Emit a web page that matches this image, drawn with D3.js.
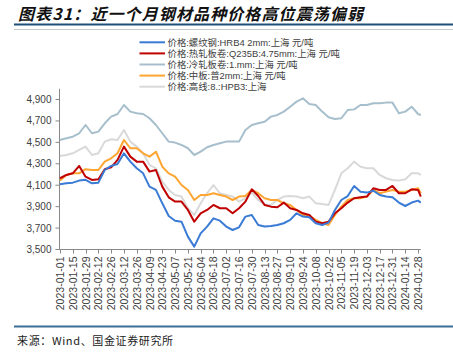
<!DOCTYPE html>
<html><head><meta charset="utf-8">
<script src="https://cdn.jsdelivr.net/npm/d3@7/dist/d3.min.js"></script>
<style>
html,body{margin:0;padding:0;background:#fff;}
svg{display:block;}
</style></head>
<body><svg id="c" width="453" height="354"></svg>
<script>
const dates = ["2023-01-01","2023-01-08","2023-01-15","2023-01-22","2023-01-29","2023-02-05","2023-02-12","2023-02-19","2023-02-26","2023-03-05",
"2023-03-12","2023-03-19","2023-03-26","2023-04-02","2023-04-09","2023-04-16","2023-04-23","2023-04-30","2023-05-07","2023-05-14",
"2023-05-21","2023-05-28","2023-06-04","2023-06-11","2023-06-18","2023-06-25","2023-07-02","2023-07-09","2023-07-16","2023-07-23",
"2023-07-30","2023-08-06","2023-08-13","2023-08-20","2023-08-27","2023-09-03","2023-09-10","2023-09-17","2023-09-24","2023-10-01",
"2023-10-08","2023-10-15","2023-10-22","2023-10-29","2023-11-05","2023-11-12","2023-11-19","2023-11-26","2023-12-03","2023-12-10",
"2023-12-17","2023-12-24","2023-12-31","2024-01-07","2024-01-14","2024-01-21","2024-01-28","2024-01-31"];

const rebar = [4109,4118,4124,4143,4150,4118,4124,4242,4280,4298, 4398,4320,4258,4211,4087,4056,3931,3813,3769,3760,
3620,3527,3651,3714,3791,3769,3714,3682,3707,3807, 3822,3729,3714,3720,3729,3745,3776,3838,3807,3801,
3745,3729,3751,3869,3962,3999,4093,4040,4031,4049, 4009,3994,3987,3938,3906,3938,3956,3938];
const hotRolled = [4165,4196,4211,4280,4180,4149,4155,4249,4267,4336, 4460,4367,4320,4320,4227,4242,4087,3987,3947,3947,
3869,3760,3838,3869,3916,3885,3885,3838,3885,3947, 4062,3999,3916,3900,3894,3938,3885,3869,3838,3822,
3760,3745,3760,3838,3885,3938,3978,3987,3994,4071, 4056,4056,4093,4025,4025,4062,4056,3994];
const coldRolled = [4522,4538,4553,4585,4662,4585,4600,4678,4740,4765, 4849,4787,4771,4765,4725,4662,4585,4507,4498,4476,
4445,4382,4413,4454,4476,4491,4507,4507,4507,4616, 4662,4678,4693,4740,4756,4787,4833,4880,4911,4858,
4849,4787,4734,4718,4725,4802,4808,4849,4849,4865, 4865,4871,4871,4771,4787,4833,4765,4756];
const plate = [4143,4196,4211,4211,4250,4242,4242,4320,4351,4398, 4522,4445,4445,4398,4367,4413,4273,4211,4180,4102,
4056,3962,4009,4009,4025,4009,3994,3962,3994,3999, 4056,4025,3978,3962,3962,3931,3916,3869,3822,3813,
3776,3745,3729,3822,3900,3962,3978,3978,3994,4056, 4025,4040,4056,4040,4040,4056,4071,4025];
const wire = [4373,4382,4398,4429,4460,4382,4398,4507,4529,4522, 4616,4507,4460,4398,4289,4258,4133,4056,4009,3994,
3885,3822,3931,4025,4102,4025,4009,3994,3947,3978, 4031,3962,3916,3916,3962,3994,4000,3994,3978,3994,
3931,3925,3916,4056,4211,4258,4320,4273,4258,4258, 4196,4165,4149,4143,4155,4211,4211,4196];

const seriesNames = ["价格:螺纹钢:HRB4  2mm:上海 元/吨","价格:热轧板卷:Q235B:4.75mm:上海  元/吨","价格:冷轧板卷:1.mm:上海  元/吨","价格:中板:普2mm:上海  元/吨","价格:高线:8.:HPB3:上海"];
const seriesColors = ["#3a7bd5","#c00000","#a7bfcc","#ffa531","#d9d9d9"];
const seriesValues = [rebar, hotRolled, coldRolled, plate, wire];
const drawOrder = [2,4,3,1,0];

const yTicks = [3500,3700,3900,4100,4300,4500,4700,4900];
const xTickLabels = ["2023-01-01","2023-01-15","2023-01-29","2023-02-12","2023-02-26","2023-03-12","2023-03-26","2023-04-09","2023-04-23","2023-05-07",
"2023-05-21","2023-06-04","2023-06-18","2023-07-02","2023-07-16","2023-07-30","2023-08-13","2023-08-27","2023-09-10","2023-09-24",
"2023-10-08","2023-10-22","2023-11-05","2023-11-19","2023-12-03","2023-12-17","2023-12-31","2024-01-14","2024-01-28"];

const svg = d3.select("#c");
const parse = d3.utcParse("%Y-%m-%d");
const x = d3.scaleUtc().domain([parse("2023-01-01"), parse("2024-01-31")]).range([60, 420.8]);
const y = d3.scaleLinear().domain([3500, 5000]).range([249.5, 88.8]);

// header
svg.append("text").attr("x",18).attr("y",19.5)
  .attr("font-family","'Noto Sans CJK SC'").attr("font-size",16).attr("font-weight","bold")
  .attr("font-style","italic").attr("fill","#111")
  .attr("textLength",345).attr("lengthAdjust","spacing")
  .text("图表31：近一个月钢材品种价格高位震荡偏弱");
svg.append("line").attr("x1",14).attr("x2",453).attr("y1",24.5).attr("y2",24.5).attr("stroke","#1f4e79").attr("stroke-width",2);
svg.append("line").attr("x1",14).attr("x2",453).attr("y1",29.5).attr("y2",29.5).attr("stroke","#c8c8c8").attr("stroke-width",1);

// footer
svg.append("line").attr("x1",14).attr("x2",453).attr("y1",326.5).attr("y2",326.5).attr("stroke","#3d6e96").attr("stroke-width",2);
svg.append("text").attr("x",17).attr("y",345)
  .attr("font-family","'Noto Sans CJK SC'").attr("font-size",11).attr("fill","#222")
  .attr("textLength",156).attr("lengthAdjust","spacing")
  .text("来源：Wind、国金证券研究所");

// axes
const gy = svg.append("g").attr("transform","translate(59.5,0)");
gy.append("line").attr("y1",88.8).attr("y2",249.5).attr("stroke","#888");
yTicks.forEach(v=>{
  gy.append("line").attr("x1",-4).attr("x2",0).attr("y1",y(v)).attr("y2",y(v)).attr("stroke","#888");
  gy.append("text").attr("x",-8).attr("y",y(v)).attr("dy","0.35em").attr("text-anchor","end")
    .attr("font-family","'Liberation Sans',Arial").attr("font-size",10).attr("fill","#404040")
    .text(d3.format(",")(v));
});
const gx = svg.append("g").attr("transform","translate(0,249.5)");
gx.append("line").attr("x1",59.5).attr("x2",420.8).attr("stroke","#888");
xTickLabels.forEach(s=>{
  const xp = Math.round(x(parse(s)))+0.5;
  gx.append("line").attr("x1",xp).attr("x2",xp).attr("y1",0).attr("y2",4).attr("stroke","#888");
  gx.append("text").attr("transform",`translate(${xp},7) rotate(-90)`).attr("text-anchor","end").attr("dy","0.35em")
    .attr("font-family","'Liberation Sans',Arial").attr("font-size",10.5).attr("fill","#404040")
    .text(s);
});

// lines
const line = d3.line().x((d,i)=>x(parse(dates[i]))).y(d=>y(d));
drawOrder.forEach(i=>{
  svg.append("path").datum(seriesValues[i]).attr("d",line).attr("fill","none")
    .attr("stroke",seriesColors[i]).attr("stroke-width",2).attr("stroke-linejoin","round");
});

// legend
seriesNames.forEach((n,i)=>{
  const yy = 42.3 + i*11.1;
  svg.append("line").attr("x1",139.5).attr("x2",165).attr("y1",yy).attr("y2",yy).attr("stroke",seriesColors[i]).attr("stroke-width",2);
  svg.append("text").attr("x",167.5).attr("y",yy).attr("dy","0.35em")
    .attr("font-family","'Liberation Sans','Noto Sans CJK SC'").attr("font-size",9.4).attr("fill","#404040")
    .text(n);
});
</script></body></html>
